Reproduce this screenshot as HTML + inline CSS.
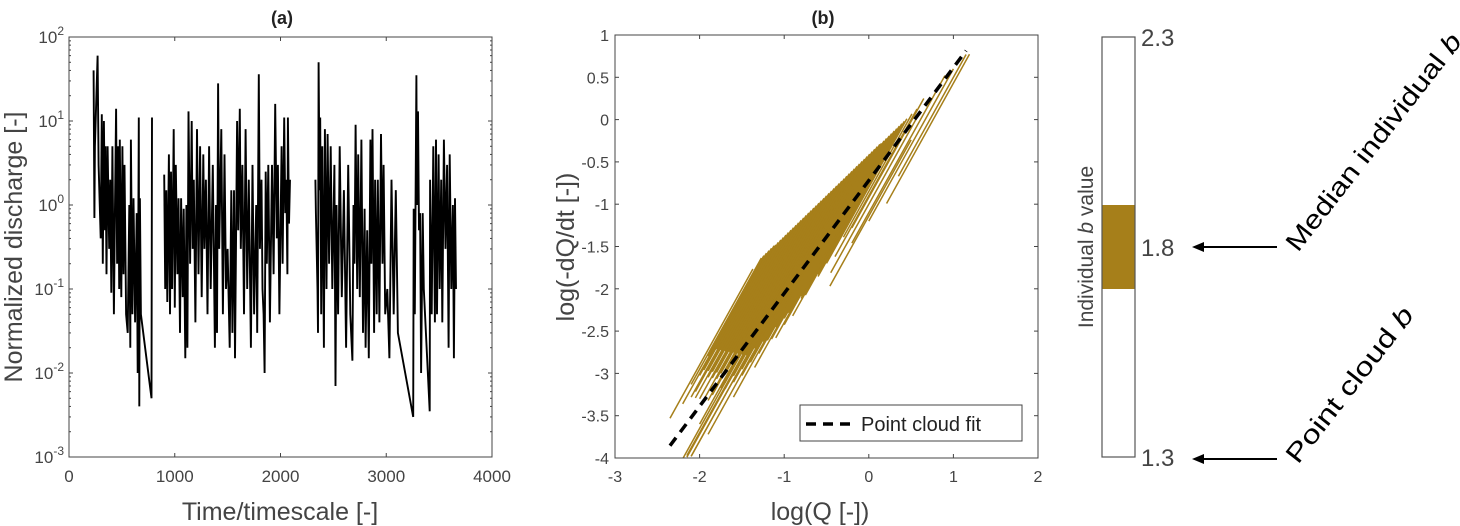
<!DOCTYPE html>
<html><head><meta charset="utf-8"><style>
html,body{margin:0;padding:0;background:#fff;}
svg{display:block;font-family:"Liberation Sans",sans-serif;}
</style></head><body>
<svg id="fig" width="1460" height="526" viewBox="0 0 1460 526" xmlns="http://www.w3.org/2000/svg">
<g id="pa"></g>
<g id="pb"></g>
<g id="pc"></g>
</svg>
<script>
// ---------- Panel (a) data ----------
const aXTicks=[0,1000,2000,3000,4000];
const aYExp=[-3,-2,-1,0,1,2];
const segT1=[233,240,245,270,280,300,310,320,330,340,345,355,365,380,390,400,410,425,435,445,455,465,475,480,495,505,515,525,540,555,570,580,585,600,610,625,640,650,660,665,670,680,780,785];
const segQ1=[40,0.7,5,60,3,0.4,12,0.2,10,0.5,5,0.15,5,0.3,2,0.09,5,0.05,1,14,0.2,5,0.1,6,0.08,5,0.15,3,0.05,0.03,1,0.02,6,0.05,1.2,0.04,0.8,0.01,11,0.004,1.2,0.05,0.005,11];
const segT2=[900,910,920,930,945,955,965,975,990,1000,1010,1025,1035,1050,1060,1075,1085,1100,1110,1120,1130,1145,1160,1170,1180,1195,1210,1225,1240,1255,1270,1280,1295,1310,1325,1340,1360,1380,1390,1400,1410,1420,1440,1455,1470,1485,1500,1520,1535,1545,1560,1570,1590,1600,1615,1625,1640,1655,1670,1685,1700,1720,1735,1750,1770,1780,1795,1805,1820,1830,1840,1850,1860,1870,1885,1900,1920,1935,1950,1965,1975,1990,2010,2020,2035,2045,2055,2065,2070,2080,2090];
const segQ2=[2.3,0.1,1.5,0.07,4,0.05,2.5,0.1,8,0.06,3,0.15,1.2,0.03,1.2,0.08,0.9,0.015,1,0.02,13,0.2,10,0.3,2,0.04,8,0.15,5,0.08,4,0.3,2,0.05,5,0.1,3,0.02,1,0.03,28,0.3,8,0.05,4,0.1,0.3,0.02,1.5,0.03,1.5,0.015,10,0.5,14,0.3,3,0.05,8,0.1,2,0.02,3,0.05,1,0.03,36,0.3,2,0.1,0.05,0.01,2.5,0.2,3,0.04,3,0.15,16,0.4,3,0.05,5,0.2,11,0.8,2,0.15,11,0.6,2];
const segT3=[2330,2335,2350,2355,2360,2370,2375,2385,2395,2410,2420,2435,2445,2460,2475,2490,2510,2520,2530,2545,2560,2580,2600,2620,2640,2660,2680,2690,2700,2710,2725,2735,2750,2765,2780,2795,2805,2820,2835,2850,2860,2870,2885,2895,2910,2920,2935,2950,2965,2975,2990,3010,3030,3050,3070,3090,3110,3255,3260,3270,3285,3290,3300,3310,3320,3330,3345,3355,3411,3415,3430,3445,3460,3470,3480,3495,3505,3520,3530,3545,3560,3575,3590,3600,3615,3630,3640,3650,3660];
const segQ3=[2,0.8,0.1,0.03,50,1.5,11,0.05,5,0.02,8,0.1,7,0.2,5,0.1,3,0.007,1,0.05,5,0.08,1.5,0.02,3,0.05,0.014,1,0.2,9,0.1,4,0.08,6,0.03,0.9,0.02,0.5,0.015,6,0.2,8,0.03,2,0.05,2,0.04,7,0.2,3,0.05,0.1,0.015,2,0.05,1.5,0.03,0.003,0.9,0.05,35,1,13,0.5,0.8,0.01,0.8,0.1,0.0035,2,0.05,5,0.04,6,0.05,4,0.1,2,0.04,6,0.3,3,0.02,4,0.1,1,0.015,1.2,0.1];

// ---------- Panel (b) data ----------
const bXTicks=[-3,-2,-1,0,1,2];
const bYTicks=[1,0.5,0,-0.5,-1,-1.5,-2,-2.5,-3,-3.5,-4];
const indivSlope=1.8;
const lineC=[0.70,0.65,0.60,0.55,0.50,0.45,0.40,0.35,0.30,0.25,0.20,0.15,0.10,0.05,0.00,-0.05,-0.10,-0.15,-0.20,-0.25,-0.30,-0.35,-0.40,-0.45,-0.50,-0.55,-0.60,-0.65,-0.70,-0.75,-0.80,-0.85,-0.90,-0.92,
 0.625,0.575,0.525,0.475,0.425,0.375,0.325,0.275,0.225,0.175,0.125,0.075,0.025,-0.025,-0.075,-0.125,-0.175,-0.225,-0.275,-0.325,-0.375,-0.425,-0.475,-0.525,-0.575,-0.625,-0.675,-0.725,-0.775,
 -1.0,-1.1,-1.2,-1.37,-1.3,-1.14,-0.05,-0.12,-0.2];
const lineX0=[-2.35,-2.1,-2.2,-1.95,-2.1,-1.9,-2.05,-1.85,-2.0,-1.8,-1.95,-1.75,-1.9,-1.7,-2.0,-1.7,-2.15,-1.6,-2.1,-1.5,-1.9,-1.4,-1.6,-1.2,-1.35,-1.0,-1.1,-0.8,-0.9,-0.6,-0.5,-0.3,-0.4,-0.2,
 -1.9,-2.0,-1.8,-2.05,-1.75,-1.9,-1.7,-1.85,-1.65,-1.8,-1.6,-1.85,-1.55,-1.75,-1.5,-1.7,-1.45,-1.6,-1.35,-1.5,-1.25,-1.3,-1.1,-1.15,-0.95,-1.0,-0.8,-0.75,-0.6,
 -0.45,-0.2,0.0,0.21,0.35,-0.46,-2.2,-2.15,-2.1];
const lineX1=[-1.37,-1.27,-1.21,-1.15,-1.10,-1.04,-0.98,-0.92,-0.86,-0.80,-0.74,-0.68,-0.62,-0.56,-0.50,-0.44,-0.38,-0.32,-0.26,-0.20,-0.14,-0.08,-0.02,0.04,0.10,0.15,0.21,0.27,0.33,0.39,0.45,0.51,0.57,0.65,
 -1.24,-1.18,-1.12,-1.07,-1.01,-0.95,-0.89,-0.83,-0.77,-0.71,-0.65,-0.59,-0.53,-0.47,-0.41,-0.35,-0.29,-0.23,-0.17,-0.11,-0.05,0.01,0.07,0.13,0.18,0.24,0.30,0.36,0.42,
 0.6,0.9,1.0,1.19,1.15,0.5,-1.1,-0.9,-0.7];
const fitSlope=1.334, fitIntercept=-0.72;
const fitX=[-2.35,1.15];

// ---------- Colour bar data ----------
const barTicks=[2.3,1.8,1.3];
const bandRange=[1.70,1.90];
const medianB=1.8, cloudB=1.3;

const NS='http://www.w3.org/2000/svg';
function mk(tag,attrs,parent){const e=document.createElementNS(NS,tag);for(const k in attrs)e.setAttribute(k,attrs[k]);parent.appendChild(e);return e;}

// ===== Panel A =====
const pa=document.getElementById('pa');
const A={l:69,r:492,t:37,b:457};
const ax=t=>A.l+(t-0)/4000*(A.r-A.l);
const ay=q=>A.b-(Math.log10(q)+3)/5*(A.b-A.t);
[[segT1,segQ1],[segT2,segQ2],[segT3,segQ3]].forEach((s,i)=>{
  const pts=s[0].map((t,j)=>ax(t).toFixed(1)+','+ay(s[1][j]).toFixed(1)).join(' ');
  const pl=mk('polyline',{points:pts,fill:'none',stroke:'#000','stroke-width':1.9},pa);
  
  
});
let fr=mk('rect',{x:A.l,y:A.t,width:A.r-A.l,height:A.b-A.t,fill:'none',stroke:'#444','stroke-width':1},pa);

aXTicks.forEach(v=>{
  const x=ax(v);
  mk('line',{x1:x,y1:A.b,x2:x,y2:A.b-4,stroke:'#444'},pa);
  mk('line',{x1:x,y1:A.t,x2:x,y2:A.t+4,stroke:'#444'},pa);
  const t=mk('text',{x:x,y:A.b+25,'font-size':17,fill:'#444','text-anchor':'middle'},pa);
  t.textContent=v;
  
});
aYExp.forEach(e=>{
  const y=ay(Math.pow(10,e));
  mk('line',{x1:A.l,y1:y,x2:A.l+4,y2:y,stroke:'#444'},pa);
  mk('line',{x1:A.r,y1:y,x2:A.r-4,y2:y,stroke:'#444'},pa);
  if(e<2)for(let m=2;m<10;m++){const yy=ay(m*Math.pow(10,e));mk('line',{x1:A.l,y1:yy,x2:A.l+2,y2:yy,stroke:'#444'},pa);mk('line',{x1:A.r,y1:yy,x2:A.r-2,y2:yy,stroke:'#444'},pa);}
  const t=mk('text',{x:A.l-5,y:y+6,'font-size':17,fill:'#444','text-anchor':'end'},pa);
  
  const b=document.createElementNS(NS,'tspan');b.textContent='10';t.appendChild(b);
  const s=document.createElementNS(NS,'tspan');s.setAttribute('dy','-8');s.setAttribute('font-size','12');s.textContent=e;t.appendChild(s);
});
let tt=mk('text',{x:282,y:24,'font-size':18,'font-weight':'bold','text-anchor':'middle',fill:'#222'},pa);tt.textContent='(a)';

tt=mk('text',{x:280,y:520,'font-size':25,'text-anchor':'middle',fill:'#444'},pa);tt.textContent='Time/timescale [-]';

tt=mk('text',{x:0,y:0,'font-size':25,'text-anchor':'middle',fill:'#444',transform:'translate(22,247) rotate(-90)'},pa);tt.textContent='Normalized discharge [-]';


// ===== Panel B =====
const pb=document.getElementById('pb');
const B={l:615,r:1038,t:35,b:458};
const bx=v=>B.l+(v+3)/5*(B.r-B.l);
const by=v=>B.b-(v+4)/5*(B.b-B.t);
const cp=mk('clipPath',{id:'bclip'},pb);mk('rect',{x:B.l,y:B.t,width:B.r-B.l,height:B.b-B.t},cp);
const lg=mk('g',{'clip-path':'url(#bclip)'},pb);
lineC.forEach((c,i)=>{
  const x0=lineX0[i],x1=lineX1[i];
  const l=mk('line',{x1:bx(x0),y1:by(c+indivSlope*x0),x2:bx(x1),y2:by(c+indivSlope*x1),stroke:'#a67f1a','stroke-width':1.5},lg);
  
  
});
const fl=mk('line',{x1:bx(fitX[0]),y1:by(fitIntercept+fitSlope*fitX[0]),x2:bx(fitX[1]),y2:by(fitIntercept+fitSlope*fitX[1]),stroke:'#000','stroke-width':3.5,'stroke-dasharray':'10,7'},pb);

fr=mk('rect',{x:B.l,y:B.t,width:B.r-B.l,height:B.b-B.t,fill:'none',stroke:'#444','stroke-width':1},pb);

bXTicks.forEach(v=>{
  const x=bx(v);
  mk('line',{x1:x,y1:B.b,x2:x,y2:B.b-4,stroke:'#444'},pb);
  mk('line',{x1:x,y1:B.t,x2:x,y2:B.t+4,stroke:'#444'},pb);
  const t=mk('text',{x:x,y:B.b+24,'font-size':16,fill:'#444','text-anchor':'middle'},pb);t.textContent=v;
  
});
bYTicks.forEach(v=>{
  const y=by(v);
  mk('line',{x1:B.l,y1:y,x2:B.l+4,y2:y,stroke:'#444'},pb);
  mk('line',{x1:B.r,y1:y,x2:B.r-4,y2:y,stroke:'#444'},pb);
  const t=mk('text',{x:B.l-6,y:y+6,'font-size':16,fill:'#444','text-anchor':'end'},pb);t.textContent=v;
  
});
const leg=mk('g',{},pb);
mk('rect',{x:800,y:405,width:222,height:36,fill:'#fff',stroke:'#444','stroke-width':1},leg);
mk('line',{x1:806,y1:424,x2:856,y2:424,stroke:'#000','stroke-width':3.5,'stroke-dasharray':'10,7'},leg);
tt=mk('text',{x:861,y:431,'font-size':20,fill:'#222'},leg);tt.textContent='Point cloud fit';

tt=mk('text',{x:823,y:24,'font-size':18,'font-weight':'bold','text-anchor':'middle',fill:'#222'},pb);tt.textContent='(b)';

tt=mk('text',{x:820,y:520,'font-size':25,'text-anchor':'middle',fill:'#444'},pb);tt.textContent='log(Q [-])';

tt=mk('text',{x:0,y:0,'font-size':25,'text-anchor':'middle',fill:'#444',transform:'translate(574,247) rotate(-90)'},pb);tt.textContent='log(-dQ/dt [-])';


// ===== Colour bar =====
const pc=document.getElementById('pc');
const C={l:1102,r:1135,t:37,b:457};
const cy=v=>C.b-(v-1.3)/1.0*(C.b-C.t);
const band=mk('rect',{x:C.l,y:cy(bandRange[1]),width:C.r-C.l,height:cy(bandRange[0])-cy(bandRange[1]),fill:'#a67f1a'},pc);

fr=mk('rect',{x:C.l,y:C.t,width:C.r-C.l,height:C.b-C.t,fill:'none',stroke:'#555','stroke-width':1.2},pc);

barTicks.forEach(v=>{
  const t=mk('text',{x:C.r+6,y:cy(v)+9,'font-size':24,fill:'#444'},pc);t.textContent=v.toFixed(1);
  
});
tt=mk('text',{x:0,y:0,'font-size':21,'text-anchor':'middle',fill:'#444',transform:'translate(1093,247) rotate(-90)'},pc);

tt.innerHTML='Individual  <tspan font-style="italic">b</tspan>  value';
[[medianB,'Median individual ','median-arrow'],[cloudB,'Point cloud ','point-cloud-arrow']].forEach((d,i)=>{
  const y=cy(d[0])+(i?2:0);
  const g=mk('g',{},pc);
  mk('line',{x1:1277,y1:y,x2:1200,y2:y,stroke:'#000','stroke-width':2},g);
  mk('polygon',{points:`1192,${y} 1204,${y-5} 1204,${y+5}`,fill:'#000'},g);
  const len=i?190:268;
  const t=mk('text',{x:0,y:0,'font-size':26,fill:'#000',textLength:len,lengthAdjust:'spacingAndGlyphs',transform:`translate(1298,${y+6}) rotate(-52)`},g);
  t.innerHTML=d[1]+'<tspan font-style="italic">b</tspan>';
});
</script>
</body></html>
